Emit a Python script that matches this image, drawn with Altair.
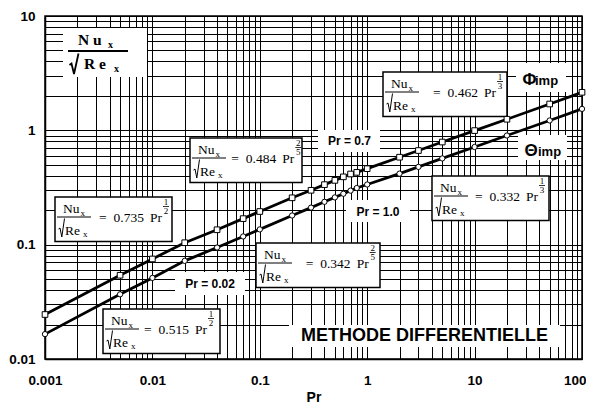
import altair as alt
import pandas as pd

# ---------------- data ----------------
PR = [0.001, 0.005, 0.01, 0.02, 0.04, 0.07, 0.1, 0.2, 0.3, 0.4, 0.5, 0.6,
      0.7, 0.8, 1, 2, 3, 5, 10, 20, 50, 100]
PHI_IMP = [0.0245, 0.054, 0.075, 0.104, 0.135, 0.169, 0.195, 0.257, 0.299,
           0.335, 0.365, 0.392, 0.415, 0.429, 0.462, 0.582, 0.666, 0.790,
           0.995, 1.25, 1.70, 2.15]
THETA_IMP = [0.0165, 0.0368, 0.0512, 0.0722, 0.0944, 0.118, 0.136, 0.180,
             0.211, 0.237, 0.259, 0.279, 0.297, 0.313, 0.336, 0.418, 0.479,
             0.568, 0.715, 0.901, 1.22, 1.54]

X_DECADES = [0.001, 0.01, 0.1, 1, 10, 100]
Y_DECADES = [0.01, 0.1, 1, 10]
X_LABELS = ["0.001", "0.01", "0.1", "1", "10", "100"]
Y_LABELS = ["0.01", "0.1", "1", "10"]

COEFS = ["0.735", "0.484", "0.462", "0.332", "0.342", "0.515"]
EXP_NUM = ["1", "2", "1", "1", "2", "1"]
EXP_DEN = ["2", "5", "3", "3", "5", "2"]

PR_LABELS = ["Pr = 0.7", "Pr = 1.0", "Pr = 0.02"]
TITLE_TEXT = "METHODE DIFFERENTIELLE"

# ---------------- layout ----------------
W, H = 537, 343
PL, PT = 45, 16          # plot origin on the page
SERIF = "Liberation Serif"
SANS = "Liberation Sans"

X_GRID = [round(k * d, 6) for d in X_DECADES[:-1] for k in range(1, 10)] + [X_DECADES[-1]]
Y_GRID = [round(k * d, 6) for d in Y_DECADES[:-1] for k in range(1, 10)] + [Y_DECADES[-1]]


def dx(px):
    """page x (layout) -> Pr value"""
    return 10 ** ((px - PL) / (W / 5) - 3)


def dy(py):
    """page y (layout) -> Nu/sqrt(Re) value"""
    return 10 ** (1 - (py - PT) / (H / 3))


def arr(labels):
    return "[" + ",".join("'%s'" % s for s in labels) + "]"


SX = alt.Scale(type="log", domain=[X_DECADES[0], X_DECADES[-1]], nice=False)
SY = alt.Scale(type="log", domain=[Y_DECADES[0], Y_DECADES[-1]], nice=False)
AX = alt.Axis(values=X_GRID, format="~g",
              labelExpr="indexof(%s, datum.label) >= 0 ? datum.label : ''" % arr(X_LABELS),
              labelAlign={"condition": {"test": "datum.value >= 100", "value": "right"},
                          "value": "center"},
              labelOffset={"condition": {"test": "datum.value >= 100", "value": 4},
                           "value": 0},
              title="Pr", grid=True, ticks=False, tickSize=0, labelOverlap=False,
              labelFlush=False, labelPadding=14, titlePadding=4)
AY = alt.Axis(values=Y_GRID, format="~g",
              labelExpr="indexof(%s, datum.label) >= 0 ? datum.label : ''" % arr(Y_LABELS),
              title="", grid=True, ticks=False, tickSize=0, labelOverlap=False,
              labelFlush=False, labelPadding=10)


def ex(field):
    return alt.X(field, type="quantitative", scale=SX, axis=AX)


def ey(field):
    return alt.Y(field, type="quantitative", scale=SY, axis=AY)


# ---------------- annotation geometry ----------------
BOXES = [(55, 197, 117, 95), (190, 138, 112, 92.3), (383, 72, 124, 101),
         (432, 176, 117, 94), (256, 243, 124, 100.7), (103, 309, 117, 92)]
BH = 44.5
RADICAL = [(3.5, 32), (5, 31), (6.8, 40), (9.5, 21.5)]

rect_border, rect_plain, rules, radical_pts = [], [], [], []
serif_main, serif_small, serif_small_c = [], [], []
bold_serif, bold_sans_c, bold_sans_l = [], [], []

for i, ((x0, y0, w, p), c, n, d) in enumerate(zip(BOXES, COEFS, EXP_NUM, EXP_DEN)):
    rect_border.append((dx(x0), dx(x0 + w), dy(y0), dy(y0 + BH)))
    serif_main += [(dx(x0 + 8), dy(y0 + 16), "Nu", 13.5),
                   (dx(x0 + 10), dy(y0 + 37.5), "Re", 13.5),
                   (dx(x0 + p - 51), dy(y0 + 25), "=", 13.5),
                   (dx(x0 + p - 36.5), dy(y0 + 25), c, 13.5),
                   (dx(x0 + p), dy(y0 + 25), "Pr", 13.5)]
    serif_small += [(dx(x0 + 25.5), dy(y0 + 18.5), "x", 9),
                    (dx(x0 + 28), dy(y0 + 40), "x", 9)]
    serif_small_c += [(dx(x0 + p + 16), dy(y0 + 8.3), n, 9),
                      (dx(x0 + p + 16), dy(y0 + 16.6), d, 9)]
    for k, (rx, ry) in enumerate(RADICAL):
        radical_pts.append((dx(x0 + rx), dy(y0 + ry), "r%d" % i, k, 1.0))
    rules += [(dx(x0 + 2), dx(x0 + 36), dy(y0 + 20), 1.0),
              (dx(x0 + p + 13), dx(x0 + p + 19), dy(y0 + 9.5), 0.8)]

# top-left axis label  Nu_x / sqrt(Re_x)
rect_plain.append((dx(63), dx(147), dy(28), dy(77)))
bold_serif += [(dx(78), dy(45), "N u", 15.5), (dx(108), dy(47.5), "x", 10),
               (dx(84), dy(68.5), "R e", 15.5), (dx(114), dy(71.5), "x", 10)]
for k, (rx, ry) in enumerate([(69.5, 65), (71.5, 63.5), (74, 74), (78.5, 53.5)]):
    radical_pts.append((dx(rx), dy(ry), "top", k, 1.8))
rules.append((dx(68), dx(128), dy(51), 2.0))

# Pr = ... labels
for (cx, cy, x1, x2, y1, y2), t in zip(
        [(349.5, 141, 318, 380, 130, 152), (378, 211.5, 346, 410, 200, 222),
         (210, 284, 175, 245, 272, 295)], PR_LABELS):
    rect_plain.append((dx(x1), dx(x2), dy(y1), dy(y2)))
    bold_sans_c.append((dx(cx), dy(cy), t, 12))

rect_plain.append((dx(289), dx(560), dy(325), dy(347)))
bold_sans_c.append((dx(424.5), dy(336), TITLE_TEXT, 18))

rect_plain += [(dx(516), dx(566), dy(63), dy(92)), (dx(518), dx(567), dy(135), dy(160))]
bold_sans_l += [(dx(522.5), dy(85), "\u03a6", 17), (dx(535), dy(85), "imp", 13),
                (dx(524.5), dy(156), "\u0398", 17), (dx(538), dy(156), "imp", 13)]


def rect_layer(rows, stroke):
    df = pd.DataFrame(rows, columns=["x", "x2", "y", "y2"])
    kw = dict(fill="white")
    if stroke:
        kw.update(stroke="black", strokeWidth=1.5)
    return alt.Chart(df).mark_rect(**kw).encode(
        x=ex("x"), x2="x2:Q", y=ey("y"), y2="y2:Q")


def rule_layer(rows):
    df = pd.DataFrame(rows, columns=["x", "x2", "y", "w"])
    return alt.Chart(df).mark_rule(color="black").encode(
        x=ex("x"), x2="x2:Q", y=ey("y"), size=alt.Size("w:Q", scale=None))


def radical_layer(rows):
    df = pd.DataFrame(rows, columns=["x", "y", "id", "k", "w"])
    return alt.Chart(df).mark_line(color="black", strokeJoin="miter").encode(
        x=ex("x"), y=ey("y"), detail="id:N", order="k:Q",
        size=alt.Size("w:Q", scale=None))


def text_layer(rows, font, weight, align, baseline):
    df = pd.DataFrame(rows, columns=["x", "y", "t", "s"])
    return alt.Chart(df).mark_text(font=font, fontWeight=weight, align=align,
                                   baseline=baseline, color="black").encode(
        x=ex("x"), y=ey("y"), text="t:N", size=alt.Size("s:Q", scale=None))


curve = pd.DataFrame({"Pr": PR, "phi": PHI_IMP, "theta": THETA_IMP})

line_phi = alt.Chart(curve).mark_line(color="black", strokeWidth=2.8).encode(
    x=ex("Pr"), y=ey("phi"))
line_theta = alt.Chart(curve).mark_line(color="black", strokeWidth=2.8).encode(
    x=ex("Pr"), y=ey("theta"))
pts_phi = alt.Chart(curve).mark_point(shape="square", size=32, filled=True, fill="white",
                                      stroke="black", strokeWidth=1, opacity=1).encode(
    x=ex("Pr"), y=ey("phi"))
pts_theta = alt.Chart(curve).mark_point(shape="circle", size=28, filled=True, fill="white",
                                        stroke="black", strokeWidth=1, opacity=1).encode(
    x=ex("Pr"), y=ey("theta"))

chart = alt.layer(
    rect_layer(rect_plain, False),
    rect_layer(rect_border, True),
    rule_layer(rules),
    radical_layer(radical_pts),
    text_layer(serif_main, SERIF, "normal", "left", "alphabetic"),
    text_layer(serif_small, SERIF, "normal", "left", "alphabetic"),
    text_layer(serif_small_c, SERIF, "normal", "center", "alphabetic"),
    text_layer(bold_serif, SERIF, "bold", "left", "alphabetic"),
    text_layer(bold_sans_c, SANS, "bold", "center", "middle"),
    text_layer(bold_sans_l, SANS, "bold", "left", "alphabetic"),
    line_phi, line_theta, pts_phi, pts_theta,
).properties(
    width=W, height=H,
    autosize=alt.AutoSizeParams(type="none"),
    padding={"left": PL - 8, "top": PT - 8, "right": 4, "bottom": 46},
).configure_view(
    stroke="black", strokeWidth=1.5
).configure_axis(
    gridColor="black", gridOpacity=1, gridWidth=1,
    domainColor="black", domainWidth=1.5,
    labelFont=SANS, labelFontWeight="bold", labelFontSize=13.5, labelColor="black",
    titleFont=SANS, titleFontWeight="bold", titleFontSize=14, titleColor="black",
)

chart.save("out.html", embed_options={"renderer": "svg", "actions": False})
